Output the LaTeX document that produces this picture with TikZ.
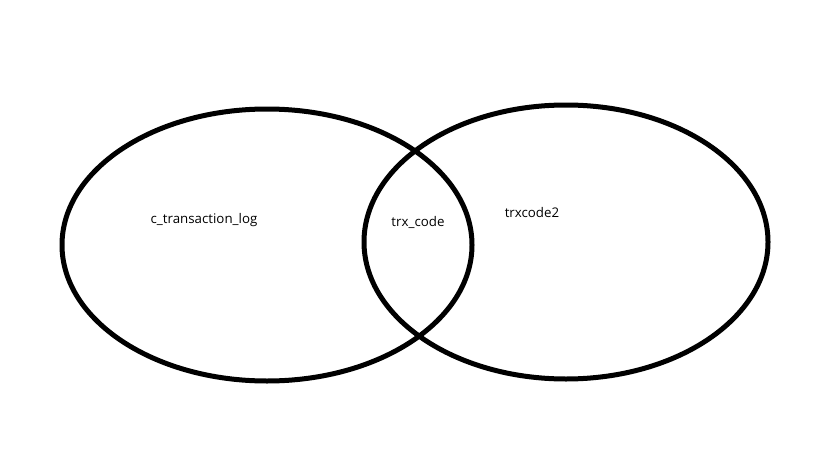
\documentclass[tikz,border=0pt]{standalone}
\usepackage{fontspec}
\setmainfont{Open Sans}
\usetikzlibrary{positioning}
\tikzset{
  vnset/.style={draw=black, line width=5pt},
  vnlabel/.style={font=\fontsize{13.3}{15}\selectfont, inner sep=1pt}
}
\begin{document}
\begin{tikzpicture}[x=1pt, y=-1pt]
  \useasboundingbox (0,0) rectangle (816,460);
  \draw[vnset] (267,245) ellipse [x radius=205, y radius=136];
  \draw[vnset] (566,242) ellipse [x radius=202, y radius=137];
  \node[vnlabel] (translog) at (204,220) {c\_transaction\_log};
  \node[vnlabel] (trxcode) at (418,222) {trx\_code};
  \node[vnlabel] (trxcodetwo) at (532,213) {trxcode2};
\end{tikzpicture}
\end{document}
